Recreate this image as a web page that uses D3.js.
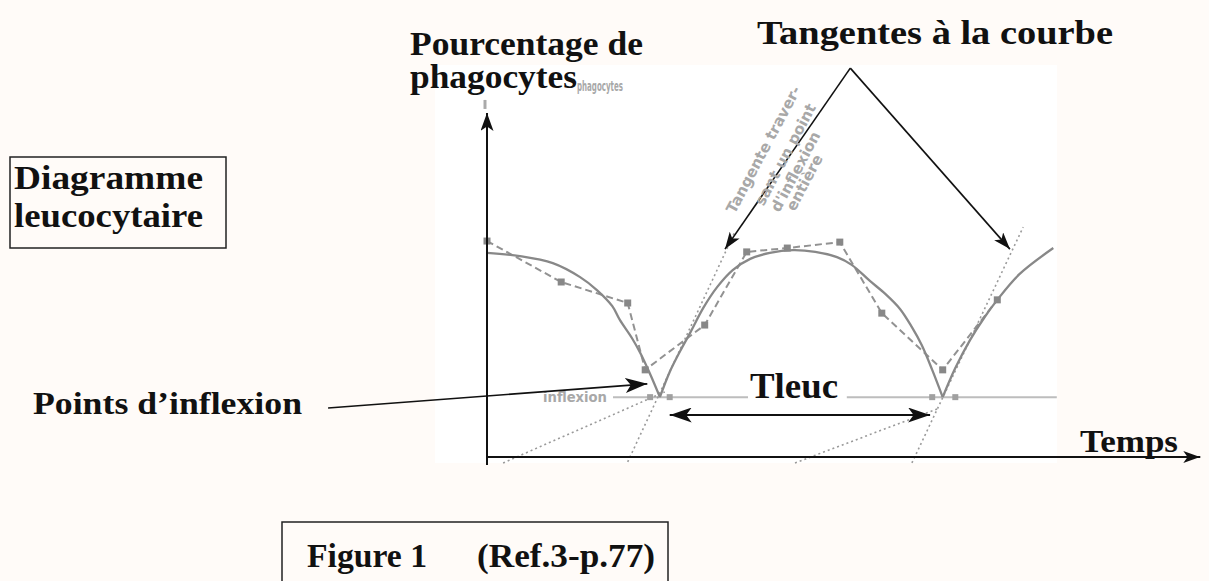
<!DOCTYPE html>
<html>
<head>
<meta charset="utf-8">
<script src="https://d3js.org/d3.v7.min.js"></script>
<style>
  body { margin: 0; background: #fffbf8; overflow: hidden; }
  .label { font-family: "Liberation Serif", "Times New Roman", serif; font-weight: bold; fill: #111; }
  .faint { font-family: "DejaVu Sans", sans-serif; fill: #a8a8a8; }
</style>
</head>
<body>
<div id="vis-container"></div>
<script>
const width = 1209;
const height = 581;

// time (arbitrary units, 0-100) vs percentage of phagocytes
const curveFall = [[0,58.3],[4.7,57.4],[9.4,55.4],[13.3,51.4],[15.7,47.7],[17.9,43.1],[19.0,39.1],[20.7,34.0],[21.9,29.7],[23.3,23.7],[24.7,17.1]];
const curveHump = [[24.7,17.1],[26.1,24.3],[27.6,30.3],[29.0,35.4],[30.9,42.6],[32.9,48.6],[35.1,53.4],[37.6,56.6],[40.4,58.3],[43.7,59.1],[46.9,58.6],[50.0,57.1],[52.1,54.9],[54.7,50.3],[56.9,46.6],[59.0,42.3],[60.7,37.1],[62.1,32.0],[63.6,24.9],[65.1,17.1]];
const curveRise = [[65.1,17.1],[66.9,25.4],[69.0,33.4],[71.1,40.0],[72.9,44.9],[76.1,52.3],[80.9,59.7]];

// measured points (dashed line with square markers)
const measureT = [0, 10.6, 20.1, 22.6, 31.1, 37.1, 42.9, 50.4, 56.4, 65.1, 72.9];
const measureV = [61.7, 50.0, 44.0, 24.9, 37.7, 58.6, 59.7, 61.4, 41.1, 24.9, 44.9];

// tangents at the inflexion points: [t0, v0, t1, v1]
const tangents = [
  [20.1, -1.4, 35.4, 64.3],
  [2.3, -1.7, 25.4, 18.6],
  [60.7, -1.7, 76.6, 65.7],
  [44.0, -1.7, 64.7, 14.0]
];

// inflexion level and the points on it
const inflexionLevel = 17.1;
const inflexionLine = [[18.0, 37.6], [51.4, 81.4]];
const inflexionMarks = [23.3, 26.1, 63.6, 66.9];

// Tleuc span
const tleucStart = 26.1;
const tleucEnd = 63.3;
const tleucLevel = 12;

// axis extents
const xMax = 101.9;
const yMax = 98.3;
const yMin = -2.3;

// annotation arrows
const tangentApex = [51.9, 111.1];
const tangentTips = [[34.0, 59.4], [74.7, 59.4]];
const inflexionArrow = [[-22.7, 14.0], [22.9, 20.9]];

const rotatedNote = ["Tangente traver-", "sant un point", "d'inflexion", "entière"];

const x = d3.scaleLinear().domain([0, 100]).range([487, 1187]);
const y = d3.scaleLinear().domain([0, 100]).range([457, 107]);

const svg = d3.select("#vis-container")
  .append("svg")
  .attr("width", width)
  .attr("height", height);

// arrow heads
const defs = svg.append("defs");
function addMarker(id, w, h) {
  defs.append("marker")
    .attr("id", id)
    .attr("viewBox", `0 0 ${w} ${h}`)
    .attr("refX", w).attr("refY", h / 2)
    .attr("markerWidth", w).attr("markerHeight", h)
    .attr("markerUnits", "userSpaceOnUse")
    .attr("orient", "auto-start-reverse")
    .append("path")
    .attr("d", `M0,0 L${w},${h / 2} L0,${h} L${w * 0.25},${h / 2} Z`)
    .attr("fill", "#111");
}
addMarker("big", 22, 15);
addMarker("mid", 18, 13);
addMarker("small", 17, 12);

// white plot panel
svg.append("rect")
  .attr("x", 435).attr("y", 65)
  .attr("width", 622).attr("height", 398)
  .attr("fill", "#ffffff");

// inflexion level line
svg.append("g")
  .selectAll("line")
  .data(inflexionLine)
  .enter()
  .append("line")
    .attr("x1", d => x(d[0]))
    .attr("x2", d => x(d[1]))
    .attr("y1", y(inflexionLevel))
    .attr("y2", y(inflexionLevel))
    .attr("stroke", "#bdbdbd")
    .attr("stroke-width", 2);

svg.append("text")
  .attr("class", "faint")
  .attr("x", 543).attr("y", 402)
  .attr("font-size", 14)
  .attr("font-weight", "bold")
  .attr("textLength", 64)
  .attr("lengthAdjust", "spacingAndGlyphs")
  .text("inflexion");

// tangents
svg.append("g")
  .selectAll("line")
  .data(tangents)
  .enter()
  .append("line")
    .attr("x1", d => x(d[0])).attr("y1", d => y(d[1]))
    .attr("x2", d => x(d[2])).attr("y2", d => y(d[3]))
    .attr("stroke", "#9a9a9a")
    .attr("stroke-width", 1.6)
    .attr("stroke-dasharray", "2,3");

// measured points, dashed
const measured = measureT.map((t, i) => [t, measureV[i]]);
svg.append("path")
  .datum(measured)
  .attr("d", d3.line().x(d => x(d[0])).y(d => y(d[1])))
  .attr("fill", "none")
  .attr("stroke", "#929292")
  .attr("stroke-width", 2)
  .attr("stroke-dasharray", "7,4");

svg.append("g")
  .selectAll("rect")
  .data(measured)
  .enter()
  .append("rect")
    .attr("x", d => x(d[0]) - 3.5)
    .attr("y", d => y(d[1]) - 3.5)
    .attr("width", 7).attr("height", 7)
    .attr("fill", "#888");

svg.append("g")
  .selectAll("rect")
  .data(inflexionMarks)
  .enter()
  .append("rect")
    .attr("x", d => x(d) - 3)
    .attr("y", y(inflexionLevel) - 3)
    .attr("width", 6).attr("height", 6)
    .attr("fill", "#a0a0a0");

// smooth curve, three pieces meeting at sharp inflexion points
const smooth = d3.line().x(d => x(d[0])).y(d => y(d[1])).curve(d3.curveCatmullRom);
svg.append("g")
  .selectAll("path")
  .data([curveFall, curveHump, curveRise])
  .enter()
  .append("path")
    .attr("d", smooth)
    .attr("fill", "none")
    .attr("stroke", "#888")
    .attr("stroke-width", 2.3);

// axes
svg.append("line")
  .attr("x1", x(0)).attr("y1", y(yMin))
  .attr("x2", x(0)).attr("y2", y(yMax))
  .attr("stroke", "#111").attr("stroke-width", 2)
  .attr("marker-end", "url(#mid)");
svg.append("line")
  .attr("x1", x(0)).attr("y1", y(0))
  .attr("x2", x(xMax)).attr("y2", y(0))
  .attr("stroke", "#111").attr("stroke-width", 2)
  .attr("marker-end", "url(#small)");
svg.append("line")
  .attr("x1", x(0) - 2).attr("y1", y(yMax) - 13)
  .attr("x2", x(0) - 2).attr("y2", y(yMax) - 4)
  .attr("stroke", "#aaa").attr("stroke-width", 3);

// Tleuc double arrow
svg.append("line")
  .attr("x1", x(tleucStart)).attr("x2", x(tleucEnd))
  .attr("y1", y(tleucLevel)).attr("y2", y(tleucLevel))
  .attr("stroke", "#111").attr("stroke-width", 2)
  .attr("marker-start", "url(#big)")
  .attr("marker-end", "url(#big)");

// tangent annotation arrows
svg.append("g")
  .selectAll("line")
  .data(tangentTips)
  .enter()
  .append("line")
    .attr("x1", x(tangentApex[0])).attr("y1", y(tangentApex[1]))
    .attr("x2", d => x(d[0])).attr("y2", d => y(d[1]))
    .attr("stroke", "#111").attr("stroke-width", 1.6)
    .attr("marker-end", "url(#small)");

// inflexion annotation arrow
svg.append("line")
  .attr("x1", x(inflexionArrow[0][0])).attr("y1", y(inflexionArrow[0][1]))
  .attr("x2", x(inflexionArrow[1][0])).attr("y2", y(inflexionArrow[1][1]))
  .attr("stroke", "#111").attr("stroke-width", 1.6)
  .attr("marker-end", "url(#big)");

// faint rotated note along the tangent
const noteCenters = [[768, 152], [790, 157], [800, 174], [809, 185]];
svg.append("g")
  .selectAll("text")
  .data(rotatedNote)
  .enter()
  .append("text")
    .attr("class", "faint")
    .attr("font-size", 15)
    .attr("font-weight", "bold")
    .attr("text-anchor", "middle")
    .attr("transform", (d, i) => `translate(${noteCenters[i][0]},${noteCenters[i][1]}) rotate(-62)`)
    .text(d => d);

svg.append("text")
  .attr("class", "faint")
  .attr("x", 577).attr("y", 91)
  .attr("font-size", 14)
  .attr("font-weight", "bold")
  .attr("textLength", 46)
  .attr("lengthAdjust", "spacingAndGlyphs")
  .text("phagocytes");

// labels
function label(txt, px, py, size, len) {
  svg.append("text")
    .attr("class", "label")
    .attr("x", px).attr("y", py)
    .attr("font-size", size)
    .attr("textLength", len)
    .attr("lengthAdjust", "spacingAndGlyphs")
    .text(txt);
}

label("Pourcentage de", 410, 55, 33, 233);
label("phagocytes", 410, 88, 33, 167);
label("Tangentes à la courbe", 757, 44, 33, 356);
label("Points d’inflexion", 33, 414, 32, 269);
label("Temps", 1080, 452, 32, 98);

// Tleuc with a white patch over the level line
svg.append("rect")
  .attr("x", 748).attr("y", 368)
  .attr("width", 96).attr("height", 34)
  .attr("fill", "#fff");
label("Tleuc", 750, 398, 36, 88);

// boxed labels
svg.append("rect")
  .attr("x", 10).attr("y", 157)
  .attr("width", 216).attr("height", 91)
  .attr("fill", "none")
  .attr("stroke", "#222").attr("stroke-width", 1.5);
label("Diagramme", 14, 189, 33, 189);
label("leucocytaire", 14, 227, 33, 189);

svg.append("rect")
  .attr("x", 282).attr("y", 522)
  .attr("width", 386).attr("height", 80)
  .attr("fill", "none")
  .attr("stroke", "#222").attr("stroke-width", 1.5);
label("Figure 1", 307, 567, 33, 120);
label("(Ref.3-p.77)", 477, 567, 33, 178);
</script>
</body>
</html>
